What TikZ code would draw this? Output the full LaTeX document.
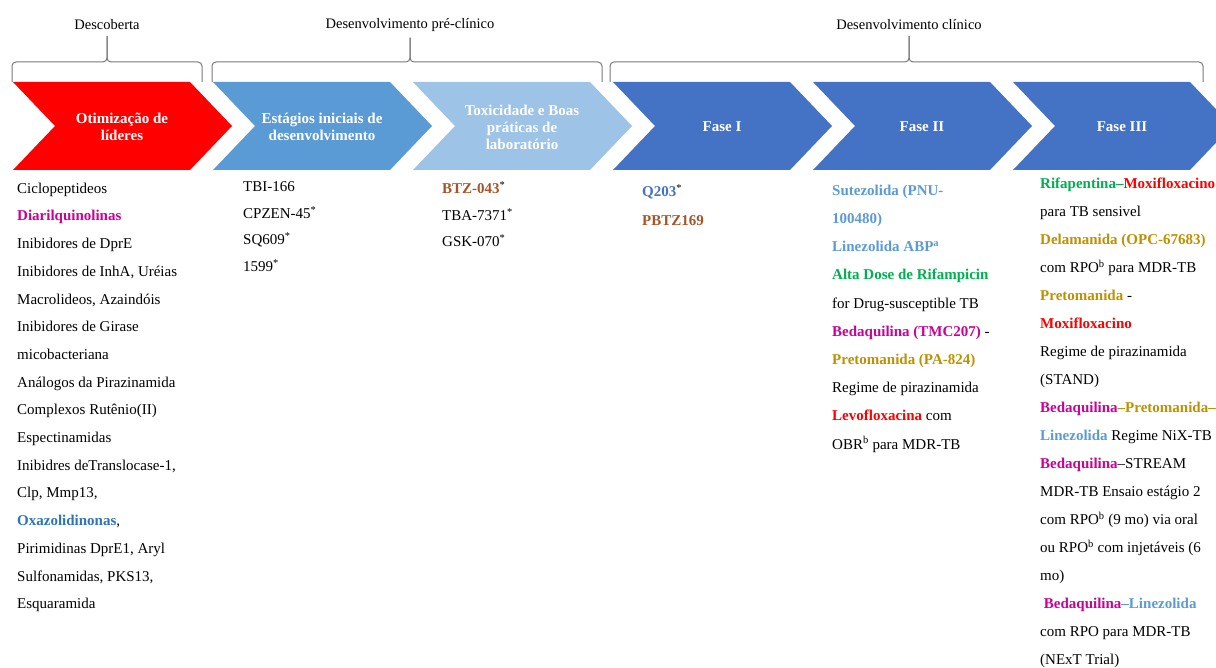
\documentclass[tikz,border=0pt]{standalone}
\usepackage{fontspec}
\setmainfont{Liberation Serif}
\definecolor{redstage}{RGB}{255,0,0}
\definecolor{bluestage}{RGB}{91,155,213}
\definecolor{lightstage}{RGB}{157,195,230}
\definecolor{fasestage}{RGB}{68,114,196}
\definecolor{bracegray}{RGB}{120,120,120}
\definecolor{magdrug}{RGB}{204,0,153}
\definecolor{oxadrug}{RGB}{46,117,182}
\definecolor{browndrug}{RGB}{166,84,40}
\definecolor{golddrug}{RGB}{191,144,0}
\definecolor{greendrug}{RGB}{0,176,80}
\definecolor{skydrug}{RGB}{91,155,213}
\newcommand{\drug}[2]{\textbf{\textcolor{#1}{#2}}}

\begin{document}
\begin{tikzpicture}[x=1pt,y=-1pt,
  stage/.style={text=white,font=\fontsize{15}{17}\selectfont\bfseries,align=center,inner sep=0},
  phase/.style={font=\fontsize{14.5}{17}\selectfont,inner sep=0,outer ysep=6pt},
  brace/.style={draw=bracegray,line width=1pt,rounded corners=4pt},
  list/.style={font=\fontsize{15}{#1}\selectfont,align=left,anchor=north west,inner sep=0}]
\useasboundingbox (0,0) rectangle (1216,668);

\foreach \i/\col/\lab in {0/redstage/{Otimização de\\líderes},
                          1/bluestage/{Estágios iniciais de\\desenvolvimento},
                          2/lightstage/{Toxicidade e Boas\\práticas de\\laboratório},
                          3/fasestage/{Fase I},
                          4/fasestage/{Fase II},
                          5/fasestage/{Fase III}}{
  \fill[\col] ({13+200*\i},82) -- ++(177,0) -- ++(42,44) -- ++(-42,44) -- ++(-177,0) -- ++(42,-44) -- cycle;
  \node[stage] (s\i) at ({122+200*\i},127) {\lab};
}

\node[phase] (p1) at (107,25) {Descoberta};
\node[phase] (p2) at (410,25) {Desenvolvimento pré-clínico};
\node[phase] (p3) at (909,25) {Desenvolvimento clínico};
\draw[brace] (p1.south) |- (12,62) -- (12,82);
\draw[brace] (p1.south) |- (202,62) -- (202,82);
\draw[brace] (p2.south) |- (212,62) -- (212,82);
\draw[brace] (p2.south) |- (602,62) -- (602,82);
\draw[brace] (p3.south) |- (610,62) -- (610,82);
\draw[brace] (p3.south) |- (1203,62) -- (1203,82);

\node[list=27.7] (l1) at (17,182.6) {
  Ciclopeptideos\\
  \drug{magdrug}{Diarilquinolinas}\\
  Inibidores de DprE\\
  Inibidores de InhA, Uréias\\
  Macrolideos, Azaindóis\\
  Inibidores de Girase\\
  micobacteriana\\
  Análogos da Pirazinamida\\
  Complexos Rutênio(II)\\
  Espectinamidas\\
  Inibidres deTranslocase-1,\\
  Clp, Mmp13,\\
  \drug{oxadrug}{Oxazolidinonas},\\
  Pirimidinas DprE1, Aryl\\
  Sulfonamidas, PKS13,\\
  Esquaramida};
\node[list=26.5] (l2) at (243,181.6) {
  TBI-166\\
  CPZEN-45\textsuperscript{*}\\
  SQ609\textsuperscript{*}\\
  1599\textsuperscript{*}};
\node[list=26.5] (l3) at (442,181.6) {
  \drug{browndrug}{BTZ-043}\textsuperscript{*}\\
  TBA-7371\textsuperscript{*}\\
  GSK-070\textsuperscript{*}};
\node[list=28.2] (l4) at (642,184.6) {
  \drug{fasestage}{Q203}\textsuperscript{*}\\
  \drug{browndrug}{PBTZ169}};
\node[list=28.2] (l5) at (832,184.6) {
  \drug{skydrug}{Sutezolida (PNU-}\\
  \drug{skydrug}{100480)}\\
  \drug{skydrug}{Linezolida ABP\textsuperscript{a}}\\
  \drug{greendrug}{Alta Dose de Rifampicin}\\
  for Drug-susceptible TB\\
  \drug{magdrug}{Bedaquilina (TMC207)} -\\
  \drug{golddrug}{Pretomanida (PA-824)}\\
  Regime de pirazinamida\\
  \drug{redstage}{Levofloxacina} com\\
  OBR\textsuperscript{b} para MDR-TB};
\node[list=28] (l6) at (1040,177.6) {
  \drug{greendrug}{Rifapentina–}\drug{redstage}{Moxifloxacino}\\
  para TB sensivel\\
  \drug{golddrug}{Delamanida (OPC-67683)}\\
  com RPO\textsuperscript{b} para MDR-TB\\
  \drug{golddrug}{Pretomanida} -\\
  \drug{redstage}{Moxifloxacino}\\
  Regime de pirazinamida\\
  (STAND)\\
  \drug{magdrug}{Bedaquilina}\drug{golddrug}{–Pretomanida–}\\
  \drug{skydrug}{Linezolida} Regime NiX-TB\\
  \drug{magdrug}{Bedaquilina}–STREAM\\
  MDR-TB Ensaio estágio 2\\
  com RPO\textsuperscript{b} (9 mo) via oral\\
  ou RPO\textsuperscript{b} com injetáveis (6\\
  mo)\\
  \ \drug{magdrug}{Bedaquilina}\drug{skydrug}{–Linezolida}\\
  com RPO para MDR-TB\\
  (NExT Trial)};
\end{tikzpicture}
\end{document}
